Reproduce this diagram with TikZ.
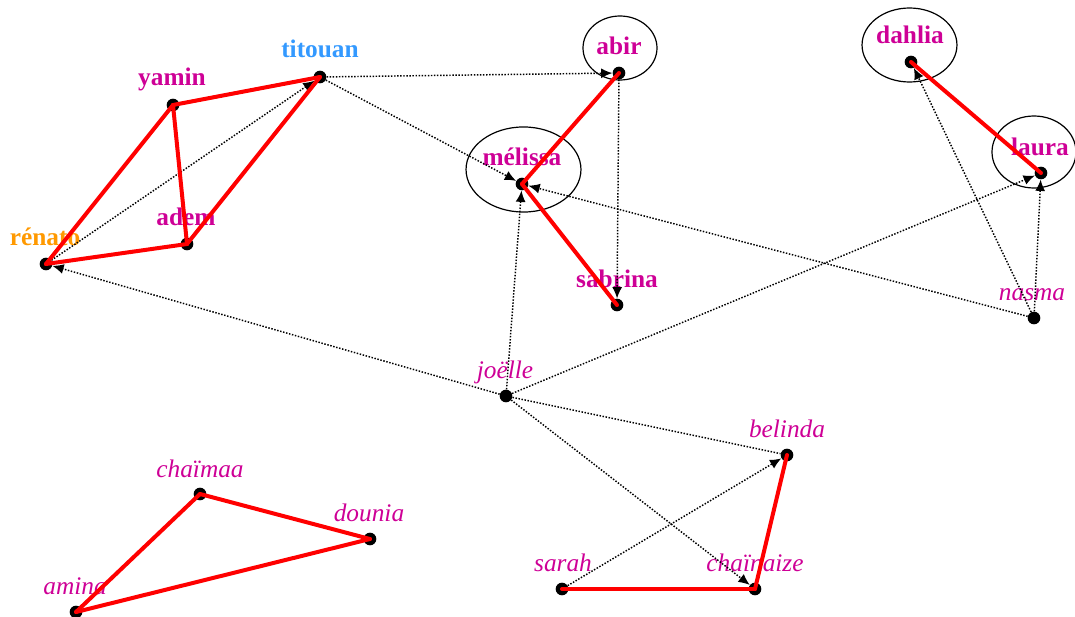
\documentclass[tikz,border=0pt]{standalone}
\usepackage{fontspec}
\setmainfont{Liberation Serif}
\usetikzlibrary{arrows.meta}
\definecolor{mag}{RGB}{206,0,150}
\definecolor{tblue}{RGB}{51,153,255}
\definecolor{torange}{RGB}{255,153,0}
\begin{document}
\begin{tikzpicture}[x=0.75pt,y=-0.75pt,
  dot/.style={circle,fill=black,inner sep=0pt,minimum size=9.5pt},
  lbl/.style={anchor=base,inner sep=0pt,text=mag,font=\fontsize{19}{20}\selectfont},
  lblb/.style={lbl,font=\fontsize{19}{20}\selectfont\bfseries},
  lbli/.style={lbl,font=\fontsize{19}{20}\selectfont\itshape},
  rel/.style={line width=1.1pt,dash pattern=on 1.1pt off 1.2pt,-{Latex[length=8.5pt,width=7.5pt]}},
  reln/.style={line width=1.1pt,dash pattern=on 1.1pt off 1.2pt},
  strong/.style={red,line width=3pt,line cap=round,line join=round},
  grp/.style={line width=0.9pt}]
\useasboundingbox (0,0) rectangle (1075,617);
% ellipses
\draw[grp] (620,48) ellipse [x radius=27.75pt, y radius=24pt];
\draw[grp] (523.5,169.5) ellipse [x radius=43.1pt, y radius=31.9pt];
\draw[grp] (909.5,45) ellipse [x radius=35.6pt, y radius=27.75pt];
\draw[grp] (1034,152) ellipse [x radius=31.5pt, y radius=27pt];
% dots
\node[dot] (titouan) at (320,77) {};
\node[dot] (yamin) at (173,105) {};
\node[dot] (adem) at (187,244) {};
\node[dot] (renato) at (46,264) {};
\node[dot] (abir) at (619,73) {};
\node[dot] (melissa) at (522,184) {};
\node[dot] (sabrina) at (617,305) {};
\node[dot] (dahlia) at (911,62) {};
\node[dot] (laura) at (1041,173) {};
\node[dot] (nasma) at (1034,318) {};
\node[dot] (joelle) at (506,396) {};
\node[dot] (belinda) at (787,455) {};
\node[dot] (chaimaa) at (200,494) {};
\node[dot] (dounia) at (370,539) {};
\node[dot] (amina) at (76,612) {};
\node[dot] (sarah) at (562,589) {};
\node[dot] (chainaize) at (755,589) {};
% labels
\node[lblb,text=tblue] (l-titouan) at (320,58) {titouan};
\node[lblb] (l-yamin) at (172,86) {yamin};
\node[lblb] (l-adem) at (186,225) {adem};
\node[lblb,text=torange] (l-renato) at (45,245) {rénato};
\node[lblb] (l-abir) at (619,55) {abir};
\node[lblb] (l-melissa) at (522,166) {mélissa};
\node[lblb] (l-sabrina) at (617,287) {sabrina};
\node[lblb] (l-dahlia) at (910,44) {dahlia};
\node[lblb] (l-laura) at (1040,155) {laura};
\node[lbli] (l-nasma) at (1032,300) {nasma};
\node[lbli] (l-joelle) at (505,378) {joëlle};
\node[lbli] (l-belinda) at (787,437) {belinda};
\node[lbli] (l-chaimaa) at (200,477) {chaïmaa};
\node[lbli] (l-dounia) at (369,521) {dounia};
\node[lbli] (l-amina) at (75,594) {amina};
\node[lbli] (l-sarah) at (563,571) {sarah};
\node[lbli] (l-chainaize) at (755,571) {chaïnaize};
% dotted relations
\draw[rel] (renato) -- (titouan);
\draw[rel] (titouan) -- (abir);
\draw[rel] (titouan) -- (melissa);
\draw[rel] (abir) -- (sabrina);
\draw[rel] (nasma) -- (melissa);
\draw[rel] (joelle) -- (melissa);
\draw[rel] (joelle) -- (renato);
\draw[rel] (joelle) -- (laura);
\draw[rel] (nasma) -- (laura);
\draw[rel] (nasma) -- (dahlia);
\draw[reln] (joelle) -- (belinda);
\draw[rel] (joelle) -- (chainaize);
\draw[rel] (sarah) -- (belinda);
% strong relations
\draw[strong] (yamin.center) -- (titouan.center);
\draw[strong] (yamin.center) -- (renato.center);
\draw[strong] (yamin.center) -- (adem.center);
\draw[strong] (adem.center) -- (renato.center);
\draw[strong] (adem.center) -- (titouan.center);
\draw[strong] (abir.center) -- (melissa.center);
\draw[strong] (melissa.center) -- (sabrina.center);
\draw[strong] (dahlia.center) -- (laura.center);
\draw[strong] (chaimaa.center) -- (dounia.center);
\draw[strong] (chaimaa.center) -- (amina.center);
\draw[strong] (dounia.center) -- (amina.center);
\draw[strong] (sarah.center) -- (chainaize.center);
\draw[strong] (chainaize.center) -- (belinda.center);
\end{tikzpicture}
\end{document}
